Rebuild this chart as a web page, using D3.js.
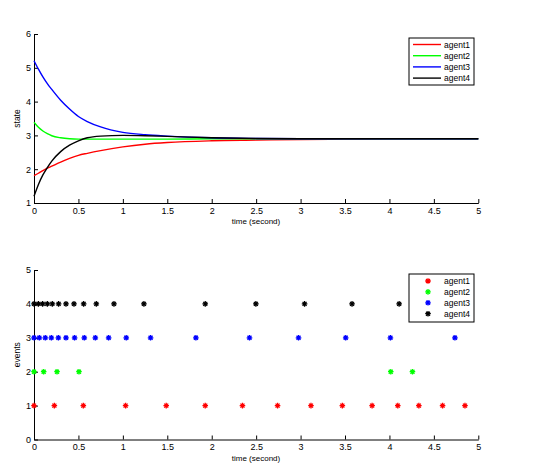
<!DOCTYPE html>
<html><head><meta charset="utf-8">
<script src="https://cdn.jsdelivr.net/npm/d3@7"></script>
<style>body{margin:0;background:#fff}svg{display:block}text{font-family:"Liberation Sans",Arial,sans-serif;}</style>
</head><body>
<svg id="c" width="537" height="476"></svg>
<script>
const agents = ["agent1","agent2","agent3","agent4"];
const colors = ["#ff0000","#00ff00","#0000ff","#000000"];
const time = [0,0.05,0.1,0.15,0.2,0.3,0.4,0.5,0.6,0.75,1.0,1.25,1.5,2.0,2.5,3.0,3.5,4.0,4.5,5.0];
const state1 = [1.81,1.88,1.96,2.03,2.09,2.21,2.32,2.41,2.47,2.55,2.66,2.74,2.79,2.84,2.86,2.88,2.89,2.9,2.9,2.9];
const state2 = [3.39,3.24,3.13,3.05,2.99,2.93,2.90,2.89,2.89,2.89,2.89,2.89,2.89,2.9,2.9,2.9,2.9,2.9,2.9,2.9];
const state3 = [5.21,4.96,4.73,4.53,4.36,4.04,3.78,3.56,3.41,3.25,3.09,3.02,2.98,2.93,2.91,2.9,2.9,2.9,2.9,2.9];
const state4 = [1.2,1.55,1.83,2.05,2.24,2.52,2.71,2.84,2.93,2.98,3.0,2.99,2.97,2.93,2.91,2.9,2.9,2.9,2.9,2.9];
const events1 = [0,0.229,0.555,1.031,1.488,1.927,2.346,2.741,3.117,3.470,3.805,4.094,4.331,4.598,4.850];
const events2 = [0,0.109,0.259,0.506,4.015,4.259];
const events3 = [0,0.060,0.127,0.195,0.274,0.360,0.457,0.566,0.690,0.840,1.038,1.312,1.822,2.425,2.977,3.508,4.011,4.737];
const events4 = [0,0.049,0.097,0.150,0.206,0.277,0.360,0.450,0.559,0.701,0.900,1.237,1.927,2.497,3.045,3.579,4.109];
const xTicks = [0,0.5,1,1.5,2,2.5,3,3.5,4,4.5,5];
const stateTicks = [1,2,3,4,5,6];
const eventTicks = [0,1,2,3,4,5];

const states = [state1,state2,state3,state4];
const events = [events1,events2,events3,events4];
const svg = d3.select("#c");
const x = d3.scaleLinear().domain([0,5]).range([34,478.3]);
const y1 = d3.scaleLinear().domain([1,6]).range([203,34]);
const y2 = d3.scaleLinear().domain([0,5]).range([439.5,270]);

function axes(ys, yt, ylab){
  const ax = ys.range()[0];
  const gx = svg.append("g").attr("transform",`translate(0,${ax})`)
    .call(d3.axisBottom(x).tickValues(xTicks).tickFormat(d=>String(d)).tickSizeInner(-4).tickSizeOuter(0).tickPadding(4.5));
  const gy = svg.append("g").attr("transform",`translate(${x.range()[0]},0)`)
    .call(d3.axisLeft(ys).tickValues(yt).tickFormat(d=>String(d)).tickSizeInner(-4).tickSizeOuter(0).tickPadding(3));
  [gx,gy].forEach(g=>{g.select(".domain").attr("stroke","#000").attr("stroke-width",1);
    g.selectAll(".tick line").attr("stroke","#000");
    g.selectAll("text").attr("font-size",9).attr("fill","#000").style("font-family","'Liberation Sans',Arial,sans-serif");});
  svg.append("text").attr("x",256).attr("y",ax+21).attr("text-anchor","middle").attr("font-size",8).text("time (second)");
  const my = (ys.range()[0]+ys.range()[1])/2;
  svg.append("text").attr("transform",`translate(20,${my}) rotate(-90)`).attr("text-anchor","middle").attr("font-size",8.5).text(ylab);
}
axes(y1, stateTicks, "state");
axes(y2, eventTicks, "events");

const line = d3.line().x((d,i)=>x(time[i])).y(d=>y1(d)).curve(d3.curveMonotoneX);
[0,1,2,3].forEach(k=>{
  svg.append("path").attr("d",line(states[k])).attr("fill","none").attr("stroke",colors[k]).attr("stroke-width",1.4);
});

function star(g, cx, cy, col){
  const r=2.8, s=2.0;
  g.append("path").attr("d",`M${cx-r},${cy}L${cx+r},${cy}M${cx},${cy-r}L${cx},${cy+r}M${cx-s},${cy-s}L${cx+s},${cy+s}M${cx-s},${cy+s}L${cx+s},${cy-s}`)
   .attr("stroke",col).attr("stroke-width",1.3).attr("fill","none");
}
const ev = svg.append("g");
[0,1,2,3].forEach(k=>{
  events[k].forEach(t=>star(ev, x(t), y2(k+1), colors[k]));
});

// legends
const L1 = svg.append("g");
L1.append("rect").attr("x",409).attr("y",38).attr("width",65).attr("height",47).attr("fill","#fff").attr("stroke","#000").attr("stroke-width",1);
agents.forEach((a,k)=>{
  const yy = 44.5 + k*11.2;
  L1.append("line").attr("x1",413).attr("x2",441).attr("y1",yy).attr("y2",yy).attr("stroke",colors[k]).attr("stroke-width",1.4);
  L1.append("text").attr("x",444).attr("y",yy+3).attr("font-size",8.5).text(a);
});
const L2 = svg.append("g");
L2.append("rect").attr("x",409).attr("y",274).attr("width",65).attr("height",48).attr("fill","#fff").attr("stroke","#000").attr("stroke-width",1);
agents.forEach((a,k)=>{
  const yy = 281 + k*10.9;
  star(L2, 428, yy, colors[k]);
  L2.append("text").attr("x",444).attr("y",yy+3).attr("font-size",8.5).text(a);
});
</script>
</body></html>
